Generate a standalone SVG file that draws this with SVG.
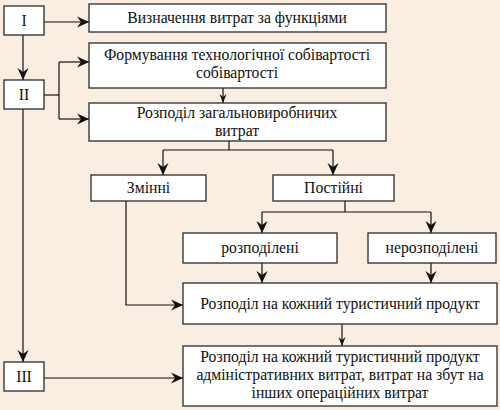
<svg xmlns="http://www.w3.org/2000/svg" width="500" height="410" viewBox="0 0 500 410">
<style>
.bg{fill:#FAEDE1}
.box{fill:#FFFFFF;stroke:#2A2A2A;stroke-width:1.3}
.t{font-family:"Liberation Serif","Times New Roman",serif;font-size:15.7px;fill:#111;text-anchor:middle}
.ln{fill:none;stroke:#111;stroke-width:1.2}
</style>
<defs>
<marker id="ah" viewBox="-13 -7 14 14" markerWidth="14" markerHeight="14" refX="0" refY="0" orient="auto" markerUnits="userSpaceOnUse">
<path d="M0,0 L-12,-5.5 L-8,0 L-12,5.5 Z" fill="#111"/>
</marker>
<marker id="as" viewBox="-10 -5 11 10" markerWidth="11" markerHeight="10" refX="0" refY="0" orient="auto" markerUnits="userSpaceOnUse">
<path d="M0,0 L-9,-3.5 L-6,0 L-9,3.5 Z" fill="#111"/>
</marker>
</defs>
<rect class="bg" x="0" y="0" width="500" height="410"/>
<g id="connectors">
<path class="ln" d="M44,22 H89" marker-end="url(#ah)"/>
<path class="ln" d="M23,35 V80" marker-end="url(#ah)"/>
<path class="ln" d="M44,95 H59"/>
<path class="ln" d="M59,62 V119"/>
<path class="ln" d="M59,62 H89" marker-end="url(#ah)"/>
<path class="ln" d="M59,119 H89" marker-end="url(#ah)"/>
<path class="ln" d="M23,109 V362" marker-end="url(#ah)"/>
<path class="ln" d="M44,378 H183" marker-end="url(#ah)"/>
<path class="ln" d="M223,88 V103" marker-end="url(#as)"/>
<path class="ln" d="M229,141 V150 M163,150 H333"/>
<path class="ln" d="M163,150 V175" marker-end="url(#ah)"/>
<path class="ln" d="M333,150 V175" marker-end="url(#ah)"/>
<path class="ln" d="M126,201 V305 H183" marker-end="url(#ah)"/>
<path class="ln" d="M345,201 V212 M262,212 H431"/>
<path class="ln" d="M262,212 V233" marker-end="url(#ah)"/>
<path class="ln" d="M431,212 V233" marker-end="url(#ah)"/>
<path class="ln" d="M262,263 V283" marker-end="url(#ah)"/>
<path class="ln" d="M431,263 V283" marker-end="url(#ah)"/>
<path class="ln" d="M342,324 V346" marker-end="url(#as)"/>
</g>
<g id="n1"><rect class="box" x="4" y="6" width="40" height="29"/><text class="t" x="24" y="26">I</text></g>
<g id="n2"><rect class="box" x="4" y="80" width="40" height="29"/><text class="t" x="24" y="100">II</text></g>
<g id="n3"><rect class="box" x="4" y="362" width="40" height="29"/><text class="t" x="24" y="382">III</text></g>
<g id="n4"><rect class="box" x="89" y="4" width="297" height="28"/><text class="t" x="237" y="23">Визначення витрат за функціями</text></g>
<g id="n5"><rect class="box" x="89" y="43" width="297" height="45"/><text class="t" x="237" y="60">Формування технологічної собівартості</text><text class="t" x="237" y="78">собівартості</text></g>
<g id="n6"><rect class="box" x="89" y="103" width="297" height="38"/><text class="t" x="237" y="118">Розподіл загальновиробничих</text><text class="t" x="237" y="136">витрат</text></g>
<g id="n7"><rect class="box" x="91" y="175" width="115" height="26"/><text class="t" x="148.5" y="193">Змінні</text></g>
<g id="n8"><rect class="box" x="273" y="175" width="121" height="26"/><text class="t" x="333.5" y="193">Постійні</text></g>
<g id="n9"><rect class="box" x="183" y="233" width="154" height="30"/><text class="t" x="260" y="253">розподілені</text></g>
<g id="n10"><rect class="box" x="368" y="233" width="128" height="30"/><text class="t" x="432" y="253">нерозподілені</text></g>
<g id="n11"><rect class="box" x="183" y="283" width="314" height="41"/><text class="t" x="340" y="309">Розподіл на кожний туристичний продукт</text></g>
<g id="n12"><rect class="box" x="183" y="346" width="314" height="60"/><text class="t" x="340" y="362">Розподіл на кожний туристичний продукт</text><text class="t" x="340" y="380">адміністративних витрат, витрат на збут на</text><text class="t" x="340" y="398">інших операційних витрат</text></g>
</svg>
